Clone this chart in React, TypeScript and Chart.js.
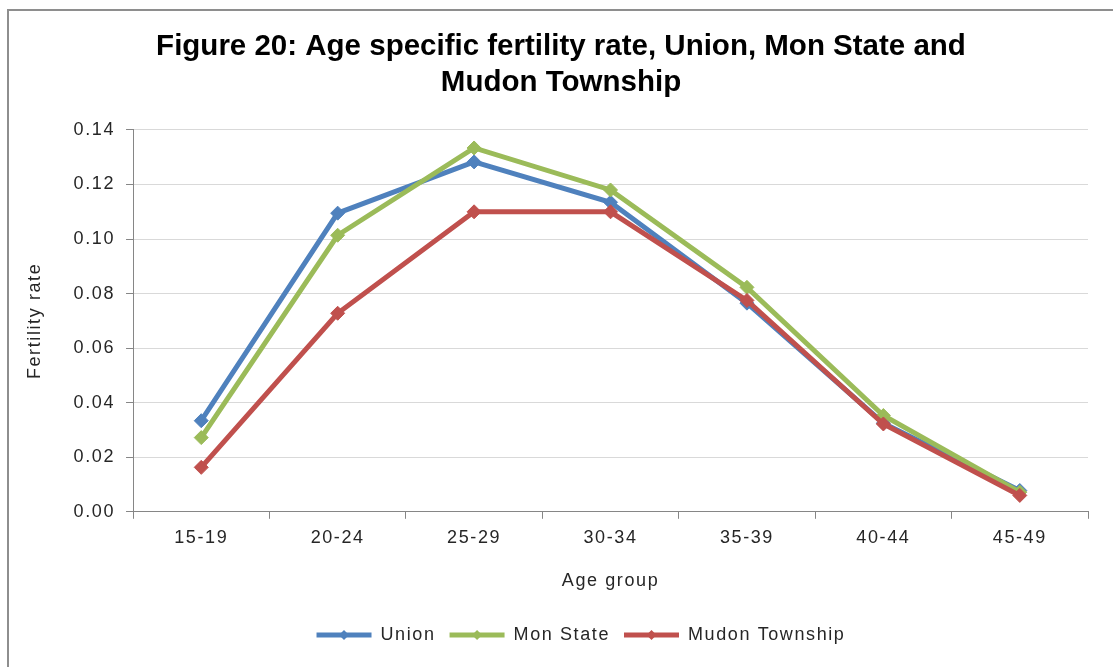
import React, { useEffect, useRef } from "react";
import { Chart, registerables } from "chart.js";

Chart.register(...registerables);

const categories = ["15-19", "20-24", "25-29", "30-34", "35-39", "40-44", "45-49"];
const unionValues = [0.0334, 0.1095, 0.1283, 0.1135, 0.0765, 0.0325, 0.0078];
const monStateValues = [0.0272, 0.1014, 0.1334, 0.118, 0.0823, 0.0353, 0.0072];
const mudonValues = [0.0163, 0.0728, 0.110, 0.110, 0.0775, 0.0322, 0.006];
const yTicks = [0, 0.02, 0.04, 0.06, 0.08, 0.1, 0.12, 0.14];

const FONT = "'Liberation Sans', Arial, sans-serif";
const SPACING = "1.6px";

const textSpacing = {
  id: "textSpacing",
  beforeUpdate(chart: any) {
    chart.ctx.letterSpacing = SPACING;
  },
  beforeLayout(chart: any) {
    chart.ctx.letterSpacing = SPACING;
  },
  afterLayout(chart: any) {
    const lg = chart.legend;
    if (lg) {
      lg.left += 25;
      lg.right += 25;
    }
    const t = chart.titleBlock;
    if (t) {
      t.left += 5;
      t.right += 5;
      if (!t.__patched) {
        const orig = t.draw.bind(t);
        t.draw = (...args: any[]) => {
          const ctx = chart.ctx;
          ctx.letterSpacing = "0px";
          orig(...args);
          ctx.letterSpacing = SPACING;
        };
        t.__patched = true;
      }
    }
  },
  beforeDraw(chart: any) {
    chart.ctx.letterSpacing = SPACING;
  },
};

const legendMarkers = {
  id: "legendMarkers",
  afterDraw(chart: any) {
    const legend = chart.legend;
    if (!legend || !legend.legendHitBoxes) return;
    const ctx = chart.ctx;
    const boxW = legend.options.labels.pointStyleWidth || 50;
    legend.legendHitBoxes.forEach((hb: any, i: number) => {
      const item = legend.legendItems[i];
      const ds = chart.data.datasets[item.datasetIndex];
      const cx = hb.left + boxW / 2;
      const cy = hb.top + hb.height / 2;
      const r = 5;
      ctx.save();
      ctx.fillStyle = ds.borderColor;
      ctx.beginPath();
      ctx.moveTo(cx, cy - r);
      ctx.lineTo(cx + r, cy);
      ctx.lineTo(cx, cy + r);
      ctx.lineTo(cx - r, cy);
      ctx.closePath();
      ctx.fill();
      ctx.restore();
    });
  },
};

export default function App() {
  const ref = useRef<HTMLCanvasElement | null>(null);

  useEffect(() => {
    document.body.style.margin = "0";
    if (!ref.current) return;
    const mk = (label: string, data: number[], color: string, order: number) => ({
      label,
      data,
      borderColor: color,
      backgroundColor: color,
      borderWidth: 5,
      pointStyle: "rectRot",
      pointRadius: 7,
      pointBorderWidth: 1,
      pointBackgroundColor: color,
      pointBorderColor: color,
      tension: 0,
      order,
    });
    const defaultGen = (Chart as any).defaults.plugins.legend.labels.generateLabels;
    const chart = new Chart(ref.current, {
      type: "line",
      data: {
        labels: categories,
        datasets: [
          mk("Union", unionValues, "#4F81BD", 2),
          mk("Mon State", monStateValues, "#9BBB59", 1),
          mk("Mudon Township", mudonValues, "#C0504D", 0),
        ] as any,
      },
      plugins: [textSpacing, legendMarkers],
      options: {
        animation: false,
        responsive: true,
        maintainAspectRatio: false,
        layout: { padding: { left: 24, right: 25, top: 0, bottom: 13 } },
        plugins: {
          title: {
            display: true,
            text: [
              "Figure 20: Age specific fertility rate, Union, Mon State and",
              "Mudon Township",
            ],
            color: "#000",
            font: { family: FONT, size: 29.5, weight: "bold", lineHeight: 1.22 },
            padding: { top: 29, bottom: 29 },
          },
          legend: {
            position: "bottom",
            labels: {
              usePointStyle: true,
              pointStyle: "line",
              pointStyleWidth: 55,
              color: "#262626",
              font: { family: FONT, size: 18 },
              padding: 14,
              sort: (a: any, b: any) => a.datasetIndex - b.datasetIndex,
              generateLabels: (c: any) =>
                defaultGen(c).map((l: any) => ({ ...l, lineWidth: 5 })),
            },
          },
          tooltip: { enabled: false },
        },
        scales: {
          x: {
            offset: true,
            grid: {
              display: true,
              drawOnChartArea: false,
              drawTicks: true,
              tickLength: 7,
              tickColor: "#868686",
              offset: true,
            },
            border: { display: true, color: "#868686", width: 1 },
            ticks: {
              color: "#262626",
              font: { family: FONT, size: 18 },
              padding: 8,
              maxRotation: 0,
            },
            title: {
              display: true,
              text: "Age group",
              color: "#262626",
              font: { family: FONT, size: 18 },
              padding: { top: 14, bottom: 20 },
            },
          },
          y: {
            min: 0,
            max: 0.14,
            afterBuildTicks: (axis: any) => {
              axis.ticks = yTicks.map((v) => ({ value: v }));
            },
            grid: {
              color: "#D9D9D9",
              lineWidth: 1,
              drawTicks: true,
              tickLength: 7,
              tickColor: "#868686",
            },
            border: { display: true, color: "#868686", width: 1 },
            ticks: {
              color: "#262626",
              font: { family: FONT, size: 18 },
              padding: 11,
              callback: (v: any) => Number(v).toFixed(2),
            },
            title: {
              display: true,
              text: "Fertility rate",
              color: "#262626",
              font: { family: FONT, size: 18 },
              padding: { top: 0, bottom: 17 },
            },
          },
        },
      } as any,
    });
    return () => chart.destroy();
  }, []);

  return (
    <div style={{ position: "relative", width: 1113, height: 667, background: "#fff" }}>
      <canvas ref={ref} />
      <div
        style={{
          position: "absolute",
          left: 7,
          top: 9,
          right: 0,
          bottom: 0,
          borderTop: "2px solid #8E8E8E",
          borderLeft: "2px solid #8E8E8E",
          pointerEvents: "none",
        }}
      />
    </div>
  );
}
